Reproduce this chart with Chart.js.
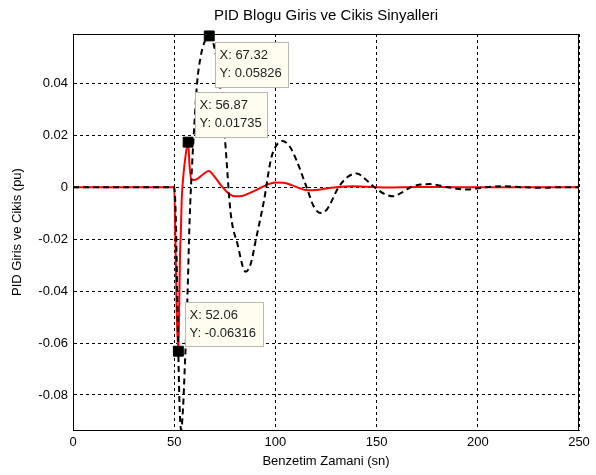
<!DOCTYPE html>
<html>
<head>
<meta charset="utf-8">
<script src="https://cdn.jsdelivr.net/npm/chart.js@4.4.0/dist/chart.umd.min.js"></script>
<style>
  html, body { margin: 0; padding: 0; background: #fff; }
  #wrap { width: 596px; height: 475px; }
</style>
</head>
<body>
<div id="wrap"><canvas id="pidChart"></canvas></div>
<script>
// ===== values =====
// black dashed (output)
const outTime = [0, 50, 50.8, 51.6, 52.5, 53.4, 54.3, 55.3, 56.5, 57.6, 58.8, 60.2, 61.3, 63, 65, 67.32,
  69.5, 71, 72.9, 75, 77.9, 81.2, 85.3, 88, 90.3, 94.4, 97.7, 100, 103.4, 106.8, 110.4, 115.4, 119, 122.2,
  125.5, 131.2, 135.8, 140.2, 144.6, 149, 153.6, 158.3, 162.6, 167, 171.6, 176.5, 185, 194.8, 204, 213,
  222, 232, 241, 250];
const outValue = [0, 0, -0.012, -0.045, -0.08, -0.0935, -0.086, -0.068, -0.0435, -0.013, 0.008, 0.027, 0.04,
  0.05, 0.056, 0.05826, 0.055, 0.049, 0.0373, 0.0193, -0.01, -0.0217, -0.0326, -0.029, -0.0204, -0.005,
  0.0104, 0.0155, 0.0178, 0.016, 0.0104, 0, -0.0075, -0.0099, -0.0085, 0, 0.004, 0.0053, 0.003, 0,
  -0.0025, -0.0035, -0.002, 0, 0.001, 0.0012, 0, -0.0009, 0, 0.0004, 0, -0.0002, 0, 0];

// red solid (input)
const inTime = [0, 50, 50.6, 51.3, 52.06, 52.5, 52.9, 53.3, 53.7, 54.6, 55.6, 56.87, 57.6, 58.5, 60, 62,
  64, 67, 70, 73, 77, 80, 84, 88, 92, 96, 100, 104, 108, 112, 116, 120, 125, 131, 138, 145, 155, 170,
  190, 250];
const inValue = [0, 0, -0.02, -0.05, -0.06316, -0.045, -0.025, -0.017, -0.005, 0.005, 0.012, 0.01735,
  0.008, 0.003, 0.0028, 0.0035, 0.0048, 0.0062, 0.004, 0.0008, -0.0025, -0.0035, -0.0033, -0.002,
  -0.0005, 0.001, 0.0018, 0.0017, 0.0008, -0.0004, -0.0012, -0.0011, -0.0005, 0.0001, 0.0004, 0.0002,
  -0.0001, 0.0001, 0, 0];

// data cursors
const tipTime = [67.32, 56.87, 52.06];
const tipValue = [0.05826, 0.01735, -0.06316];

// axes
const xTicks = [0, 50, 100, 150, 200, 250];
const yTicks = [-0.08, -0.06, -0.04, -0.02, 0, 0.02, 0.04];
const yTickLabels = ['-0.08', '-0.06', '-0.04', '-0.02', '0', '0.02', '0.04'];

const toPoints = (xs, ys) => xs.map((x, i) => ({ x: x, y: ys[i] }));

const FONT = 'Arial, "Liberation Sans", sans-serif';

// box placement relative to each cursor marker (pixels)
const tipBoxes = [
  { dx: 6, dy: 6, w: 73, h: 45 },
  { dx: 7, dy: -50, w: 72, h: 45 },
  { dx: 7, dy: -49, w: 78, h: 44 }
];

// solid frame round the axes, MATLAB style
const framePlugin = {
  id: 'frame',
  beforeDatasetsDraw(chart) {
    const { ctx, chartArea: a } = chart;
    ctx.save();
    ctx.strokeStyle = '#000';
    ctx.lineWidth = 1;
    ctx.strokeRect(a.left + 0.5, a.top + 0.5, a.right - a.left - 1, a.bottom - a.top);
    ctx.restore();
  }
};

// text boxes of the data cursors
const tipPlugin = {
  id: 'tips',
  afterDatasetsDraw(chart) {
    const { ctx, scales } = chart;
    ctx.save();
    ctx.font = '13px ' + FONT;
    ctx.textBaseline = 'middle';
    ctx.textAlign = 'left';
    tipTime.forEach((t, i) => {
      const px = scales.x.getPixelForValue(t);
      const py = scales.y.getPixelForValue(tipValue[i]);
      const b = tipBoxes[i];
      const bx = Math.round(px + b.dx) + 0.5;
      const by = Math.round(py + b.dy) + 0.5;
      ctx.fillStyle = '#fffcf0';
      ctx.fillRect(bx, by, b.w, b.h);
      ctx.strokeStyle = '#b8b8b0';
      ctx.lineWidth = 1;
      ctx.strokeRect(bx, by, b.w, b.h);
      ctx.fillStyle = '#222';
      ctx.fillText('X: ' + t.toFixed(2), bx + 4, by + 13);
      ctx.fillText('Y: ' + tipValue[i], bx + 4, by + 31);
    });
    ctx.restore();
  }
};

const ctx = document.getElementById('pidChart').getContext('2d');
const pidChart = new Chart(ctx, {
  type: 'line',
  data: {
    datasets: [
      {
        type: 'scatter',
        label: 'Data cursor',
        data: toPoints(tipTime, tipValue),
        pointStyle: 'rect',
        pointRadius: 7,
        backgroundColor: '#000',
        borderColor: '#000',
        borderWidth: 1,
        clip: false
      },
      {
        label: 'Cikis',
        data: toPoints(outTime, outValue),
        borderColor: '#000',
        borderWidth: 2,
        borderDash: [6, 4],
        pointRadius: 0,
        cubicInterpolationMode: 'monotone',
        fill: false
      },
      {
        label: 'Giris',
        data: toPoints(inTime, inValue),
        borderColor: '#ff0000',
        borderWidth: 2,
        pointRadius: 0,
        cubicInterpolationMode: 'monotone',
        fill: false
      }
    ]
  },
  options: {
    responsive: true,
    maintainAspectRatio: false,
    animation: false,
    layout: { padding: { left: 0, right: 17, top: 0, bottom: 0 } },
    plugins: {
      legend: { display: false },
      tooltip: { enabled: false },
      title: {
        display: true,
        fullSize: false,
        text: 'PID Blogu Giris ve Cikis Sinyalleri',
        color: '#000',
        font: { family: FONT, size: 15, weight: 'normal' },
        padding: { top: 7, bottom: 9 }
      }
    },
    scales: {
      x: {
        type: 'linear',
        min: 0,
        max: 250,
        afterBuildTicks: (scale) => { scale.ticks = xTicks.map(v => ({ value: v })); },
        afterFit: (scale) => { scale.height = 45; },
        ticks: {
          color: '#000',
          padding: 5,
          maxRotation: 0,
          font: { family: FONT, size: 13 },
          callback: (v) => String(v)
        },
        grid: { color: '#000', lineWidth: 1, drawTicks: false },
        border: { display: true, color: '#000', width: 1, dash: [3, 3] },
        title: {
          display: true,
          text: 'Benzetim Zamani (sn)',
          color: '#000',
          font: { family: FONT, size: 13 },
          padding: { top: 0, bottom: 6 }
        }
      },
      y: {
        type: 'linear',
        min: -0.0935,
        max: 0.059,
        afterBuildTicks: (scale) => { scale.ticks = yTicks.map(v => ({ value: v })); },
        afterFit: (scale) => { scale.width = 73; },
        ticks: {
          color: '#000',
          padding: 5,
          font: { family: FONT, size: 13 },
          callback: (v) => {
            const i = yTicks.findIndex(t => Math.abs(t - v) < 1e-9);
            return i >= 0 ? yTickLabels[i] : '';
          }
        },
        grid: { color: '#000', lineWidth: 1, drawTicks: false },
        border: { display: true, color: '#000', width: 1, dash: [3, 3] },
        title: {
          display: true,
          text: 'PID Giris ve Cikis (pu)',
          color: '#000',
          font: { family: FONT, size: 13 },
          padding: { top: 10, bottom: 0 }
        }
      }
    }
  },
  plugins: [framePlugin, tipPlugin]
});
</script>
</body>
</html>
